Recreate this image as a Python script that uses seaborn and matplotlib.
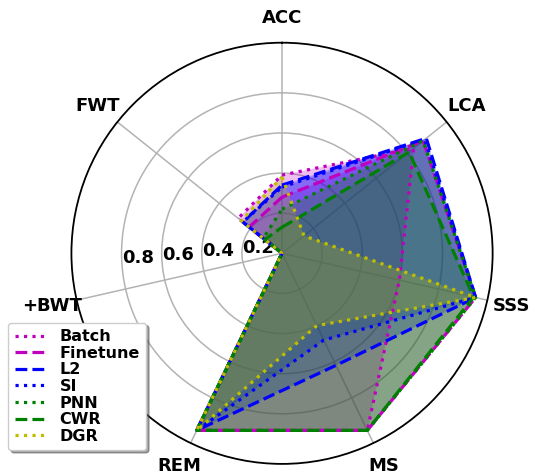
import numpy as np
import pandas as pd
import matplotlib
matplotlib.use("Agg")
import matplotlib.pyplot as plt
import seaborn as sns

# Metric axes (clockwise from the top)
metrics = ["ACC", "LCA", "SSS", "MS", "REM", "+BWT", "FWT"]

# Values per strategy, in the order of `metrics`
batch    = [0.39, 0.84, 0.60, 0.98, 0.98, 0.00, 0.28]
finetune = [0.28, 0.90, 0.99, 0.98, 0.98, 0.00, 0.21]
l2       = [0.34, 0.92, 0.99, 0.62, 0.98, 0.00, 0.25]
si       = [0.33, 0.91, 0.99, 0.48, 0.98, 0.00, 0.25]
pnn      = [0.22, 0.90, 0.99, 0.98, 0.98, 0.00, 0.12]
cwr      = [0.13, 0.81, 0.98, 0.98, 0.98, 0.00, 0.11]
dgr      = [0.38, 0.14, 0.99, 0.40, 0.98, 0.00, 0.26]

strategies = ["Batch", "Finetune", "L2", "SI", "PNN", "CWR", "DGR"]
series = [batch, finetune, l2, si, pnn, cwr, dgr]
colors = ["#bf00bf", "#bf00bf", "#0000ff", "#0000ff", "#008000", "#008000", "#bfbf00"]
styles = [":", "--", "--", ":", ":", "--", ":"]

rticks = [0.2, 0.4, 0.6, 0.8]
rtick_labels = ["0.2", "0.4", "0.6", "0.8"]

sns.set_theme(style="white", color_codes=False)
plt.rcParams["font.family"] = ["DejaVu Sans"]
plt.rcParams["text.color"] = "black"
plt.rcParams["xtick.color"] = "black"
plt.rcParams["ytick.color"] = "black"
plt.rcParams["axes.labelcolor"] = "black"

fig = plt.figure(figsize=(5.35, 4.76), dpi=100)
ax = fig.add_axes([0.1335, 0.0254, 0.7873, 0.8849], projection="polar")
ax.set_theta_offset(np.pi / 2)
ax.set_theta_direction(-1)

n = len(metrics)
angles = np.arange(n) * 2 * np.pi / n
closed_angles = np.append(angles, angles[0] + 2 * np.pi)

for name, vals, c, ls in zip(strategies, series, colors, styles):
    closed_vals = np.append(vals, vals[0])
    df = pd.DataFrame({"theta": closed_angles, "r": closed_vals})
    sns.lineplot(data=df, x="theta", y="r", ax=ax, sort=False, estimator=None,
                 color=c, linestyle=ls, linewidth=2.3, label=name)
    ax.fill(closed_angles, closed_vals, facecolor=c, alpha=0.25, linewidth=0)

ax.set_xlabel("")
ax.set_ylabel("")
ax.set_xticks(angles)
ax.set_xticklabels(metrics, fontsize=13, fontweight="bold", color="black")
ax.tick_params(axis="x", pad=5)
ax.set_ylim(0, 1.05)
ax.set_yticks(rticks)
ax.set_yticklabels(rtick_labels, fontsize=13, fontweight="bold", color="black")
ax.set_rlabel_position(265)
ax.grid(True, color="#b3b3b3", linewidth=1.1)
ax.spines["polar"].set_color("black")
ax.spines["polar"].set_linewidth(1.3)

leg = ax.legend(loc="upper left", bbox_to_anchor=(0.0155, 0.322),
                bbox_transform=fig.transFigure, borderaxespad=0,
                prop={"weight": "bold", "size": 11.5}, labelspacing=0.1,
                fancybox=True, shadow=True, framealpha=1, edgecolor="0.8",
                handlelength=2.0)
for t in leg.get_texts():
    t.set_color("black")

fig.savefig("out.png", dpi=100)
